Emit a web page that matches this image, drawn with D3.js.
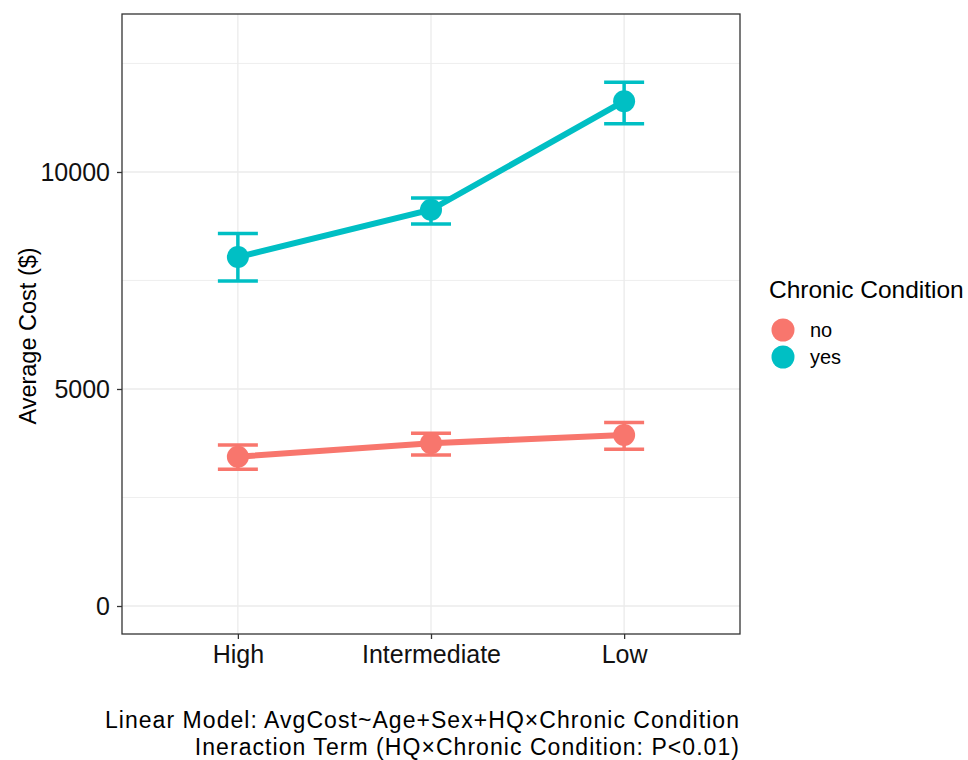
<!DOCTYPE html>
<html><head><meta charset="utf-8">
<script src="https://cdn.jsdelivr.net/npm/d3@7"></script>
<style>body{margin:0;background:#fff;} text{font-family:Arial,"Liberation Sans",sans-serif;}</style>
</head><body>
<svg id="c" width="968" height="760"></svg>
<script>
const categories = ["High", "Intermediate", "Low"];
const groups = ["no", "yes"];
const colors = ["#F8766D", "#00BFC4"];
const meanNo = [3440, 3750, 3940];
const lowerNo = [3150, 3480, 3610];
const upperNo = [3710, 3980, 4230];
const meanYes = [8040, 9130, 11630];
const lowerYes = [7490, 8800, 11110];
const upperYes = [8580, 9400, 12070];
const yTicks = [0, 5000, 10000];
const yMinor = [2500, 7500, 12500];
const caption = ["Linear Model: AvgCost~Age+Sex+HQ\u00D7Chronic Condition", "Ineraction Term (HQ\u00D7Chronic Condition: P<0.01)"];

const series = [
  {name: groups[0], color: colors[0], mean: meanNo, lo: lowerNo, hi: upperNo},
  {name: groups[1], color: colors[1], mean: meanYes, lo: lowerYes, hi: upperYes}
];

const svg = d3.select("#c");
const L = 122, R = 740, T = 14, B = 634;
const x = d3.scalePoint().domain(categories).range([L, R]).padding(0.6);
const y = d3.scaleLinear().domain([-645, 13640]).range([B, T]);

// grid
const g = svg.append("g");
g.selectAll(".ymin").data(yMinor).join("line").attr("x1", L).attr("x2", R)
  .attr("y1", d => y(d)).attr("y2", d => y(d)).attr("stroke", "#EBEBEB").attr("stroke-width", 0.8);
g.selectAll(".ymaj").data(yTicks).join("line").attr("x1", L).attr("x2", R)
  .attr("y1", d => y(d)).attr("y2", d => y(d)).attr("stroke", "#EBEBEB").attr("stroke-width", 1.3);
g.selectAll(".xmaj").data(categories).join("line").attr("y1", T).attr("y2", B)
  .attr("x1", d => x(d)).attr("x2", d => x(d)).attr("stroke", "#EBEBEB").attr("stroke-width", 1.3);

// series
series.forEach(s => {
  const pts = categories.map((c, i) => ({c, m: s.mean[i], lo: s.lo[i], hi: s.hi[i]}));
  svg.append("path").datum(pts)
    .attr("d", d3.line().x(d => x(d.c)).y(d => y(d.m)))
    .attr("fill", "none").attr("stroke", s.color).attr("stroke-width", 6);
  const eb = svg.append("g").attr("stroke", s.color).attr("stroke-width", 3.5);
  eb.selectAll(".v").data(pts).join("line").attr("x1", d => x(d.c)).attr("x2", d => x(d.c))
    .attr("y1", d => y(d.lo)).attr("y2", d => y(d.hi));
  eb.selectAll(".t").data(pts).join("line").attr("x1", d => x(d.c) - 20).attr("x2", d => x(d.c) + 20)
    .attr("y1", d => y(d.hi)).attr("y2", d => y(d.hi));
  eb.selectAll(".b").data(pts).join("line").attr("x1", d => x(d.c) - 20).attr("x2", d => x(d.c) + 20)
    .attr("y1", d => y(d.lo)).attr("y2", d => y(d.lo));
  svg.append("g").selectAll("circle").data(pts).join("circle")
    .attr("cx", d => x(d.c)).attr("cy", d => y(d.m)).attr("r", 11).attr("fill", s.color);
});

// panel border
svg.append("rect").attr("x", L).attr("y", T).attr("width", R - L).attr("height", B - T)
  .attr("fill", "none").attr("stroke", "#333333").attr("stroke-width", 1.3);

// axes
const yAxis = svg.append("g").attr("transform", `translate(${L},0)`)
  .call(d3.axisLeft(y).tickValues(yTicks).tickSize(5).tickPadding(7).tickFormat(d3.format("d")));
yAxis.select(".domain").remove();
yAxis.selectAll("line").attr("stroke", "#333333").attr("stroke-width", 1.3);
yAxis.selectAll("text").attr("fill", "#111").style("font-size", "25px").attr("dy", "0.35em");

const xAxis = svg.append("g").attr("transform", `translate(0,${B})`)
  .call(d3.axisBottom(x).tickSize(5).tickPadding(6));
xAxis.select(".domain").remove();
xAxis.selectAll("line").attr("stroke", "#333333").attr("stroke-width", 1.3);
xAxis.selectAll("text").attr("fill", "#111").style("font-size", "25px").attr("dy", null).attr("y", 29);

// y title
svg.append("text").attr("transform", `translate(36,336) rotate(-90)`)
  .attr("text-anchor", "middle").style("font-size", "23.5px").attr("fill", "#000").text("Average Cost ($)");

// caption
caption.forEach((t, i) => {
  svg.append("text").attr("x", R).attr("y", 728 + i * 27).attr("text-anchor", "end")
    .style("font-size", "23px").style("letter-spacing", "1.05px").attr("fill", "#000").text(t);
});

// legend
const lg = svg.append("g");
lg.append("text").attr("x", 769).attr("y", 298).style("font-size", "24.5px").attr("fill", "#000").text("Chronic Condition");
series.forEach((s, i) => {
  lg.append("circle").attr("cx", 783).attr("cy", 330 + i * 27).attr("r", 11.5).attr("fill", s.color);
  lg.append("text").attr("x", 810).attr("y", 337 + i * 27).style("font-size", "20px").attr("fill", "#000").text(s.name);
});
</script>
</body></html>
